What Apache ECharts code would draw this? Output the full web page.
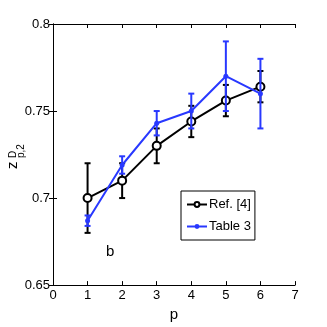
<!DOCTYPE html>
<html>
<head>
<meta charset="utf-8">
<script src="https://cdn.jsdelivr.net/npm/echarts@6/dist/echarts.min.js"></script>
<style>
  html, body { margin: 0; padding: 0; background: #fff; }
  #chart { width: 327px; height: 327px; }
</style>
</head>
<body>
<div id="chart"></div>
<script>
const pValues = [1, 2, 3, 4, 5, 6];

const refMean = [0.700, 0.710, 0.730, 0.744, 0.756, 0.764];
const refLow  = [0.680, 0.700, 0.720, 0.735, 0.747, 0.755];
const refHigh = [0.720, 0.720, 0.740, 0.753, 0.765, 0.773];

const tabMean = [0.687, 0.719, 0.743, 0.750, 0.770, 0.760];
const tabLow  = [0.684, 0.714, 0.736, 0.740, 0.750, 0.740];
const tabHigh = [0.690, 0.724, 0.750, 0.760, 0.790, 0.780];

const FONT = '"Liberation Sans", Arial, sans-serif';
const BLUE = '#2838ff';

const chart = echarts.init(document.getElementById('chart'));

// error bar: vertical line with small caps
const errRender = (color) => (params, api) => {
  const x = api.value(0);
  const lo = api.coord([x, api.value(1)]);
  const hi = api.coord([x, api.value(2)]);
  const w = 3;
  const style = { stroke: color, lineWidth: 2 };
  return {
    type: 'group',
    children: [
      { type: 'line', shape: { x1: lo[0], y1: lo[1], x2: hi[0], y2: hi[1] }, style },
      { type: 'line', shape: { x1: lo[0] - w, y1: lo[1], x2: lo[0] + w, y2: lo[1] }, style },
      { type: 'line', shape: { x1: hi[0] - w, y1: hi[1], x2: hi[0] + w, y2: hi[1] }, style }
    ]
  };
};

const axisCommon = {
  axisLine: { show: true, lineStyle: { color: '#000', width: 1 } },
  axisTick: { show: true, inside: true, length: 4, lineStyle: { color: '#000' } },
  splitLine: { show: false }
};

// rotated y label pieces: z, superscript D, subscript p,2
const yLabel = (text, x, y, size, va) => ({
  type: 'text', x: x, y: y, rotation: Math.PI / 2,
  style: { text: text, fontFamily: FONT, fontSize: size, fill: '#000', align: 'left', verticalAlign: va }
});

const option = {
  animation: false,
  backgroundColor: '#fff',
  grid: { left: 53, right: 32, top: 24, bottom: 40 },
  xAxis: [
    Object.assign({
      type: 'value', min: 0, max: 7, interval: 1, position: 'bottom',
      name: 'p', nameLocation: 'middle', nameGap: 21,
      nameTextStyle: { fontFamily: FONT, fontSize: 15, color: '#000' },
      axisLabel: { fontFamily: FONT, fontSize: 13, color: '#000', margin: 4 }
    }, axisCommon),
    Object.assign({
      type: 'value', min: 0, max: 7, interval: 1, position: 'top',
      axisLabel: { show: false }
    }, axisCommon)
  ],
  yAxis: [
    Object.assign({
      type: 'value', min: 0.65, max: 0.8, interval: 0.05, position: 'left',
      axisLabel: {
        fontFamily: FONT, fontSize: 13, color: '#000', margin: 3,
        formatter: v => String(parseFloat(v.toFixed(2)))
      }
    }, axisCommon),
    Object.assign({
      type: 'value', min: 0.65, max: 0.8, interval: 0.05, position: 'right',
      axisLabel: { show: false }
    }, axisCommon)
  ],
  legend: {
    data: ['Ref. [4]', 'Table 3'],
    orient: 'vertical',
    left: 181, top: 191,
    itemWidth: 20, itemHeight: 6, itemGap: 9,
    padding: [7, 4, 7, 5],
    backgroundColor: '#fff',
    borderColor: '#000', borderWidth: 1, borderRadius: 0,
    textStyle: { fontFamily: FONT, fontSize: 13, color: '#000', padding: [0, 0, 0, -3] }
  },
  graphic: [
    {
      type: 'text', left: 106, top: 244,
      style: { text: 'b', fontFamily: FONT, fontSize: 15, fill: '#000' }
    },
    yLabel('z', 20, 169, 15, 'bottom'),
    yLabel('D', 18.5, 158, 10, 'bottom'),
    yLabel('p,2', 16, 158, 10, 'top')
  ],
  series: [
    {
      type: 'custom', name: 'refErr', silent: true, z: 2,
      renderItem: errRender('#000'),
      data: pValues.map((p, i) => [p, refLow[i], refHigh[i]])
    },
    {
      type: 'line', name: 'Ref. [4]', z: 3,
      data: pValues.map((p, i) => [p, refMean[i]]),
      symbol: 'circle', symbolSize: 8, showAllSymbol: true,
      lineStyle: { color: '#000', width: 2 },
      itemStyle: { color: '#fff', borderColor: '#000', borderWidth: 2 }
    },
    {
      type: 'custom', name: 'tabErr', silent: true, z: 4,
      renderItem: errRender(BLUE),
      data: pValues.map((p, i) => [p, tabLow[i], tabHigh[i]])
    },
    {
      type: 'line', name: 'Table 3', z: 5,
      data: pValues.map((p, i) => [p, tabMean[i]]),
      symbol: 'circle', symbolSize: 5, showAllSymbol: true,
      lineStyle: { color: BLUE, width: 2 },
      itemStyle: { color: BLUE, borderWidth: 0 }
    }
  ]
};

chart.setOption(option);
</script>
</body>
</html>
